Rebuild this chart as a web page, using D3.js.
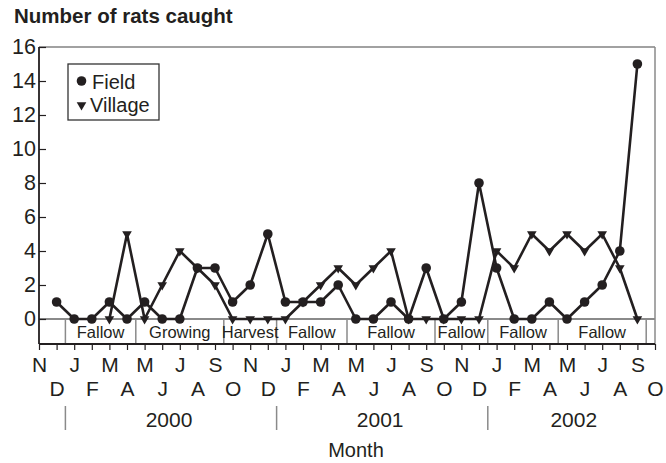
<!DOCTYPE html>
<html>
<head>
<meta charset="utf-8">
<script src="https://cdn.jsdelivr.net/npm/d3@7"></script>
<style>
  body { margin: 0; background: #fff; }
  svg { display: block; font-family: "Liberation Sans", Arial, sans-serif; }
</style>
</head>
<body>
<div id="chart"></div>
<script>
// months from Nov 1999 to Oct 2002
const months = ["N","D","J","F","M","A","M","J","J","A","S","O",
                "N","D","J","F","M","A","M","J","J","A","S","O",
                "N","D","J","F","M","A","M","J","J","A","S","O"];

const fieldValues = [null, 1, 0, 0, 1, 0, 1, 0, 0, 3, 3, 1,
                     2, 5, 1, 1, 1, 2, 0, 0, 1, 0, 3, 0,
                     1, 8, 3, 0, 0, 1, 0, 1, 2, 4, 15, null];

const villageValues = [null, null, null, null, 0, 5, 0, 2, 4, 3, 2, 0,
                       0, 0, 0, 1, 2, 3, 2, 3, 4, 0, 0, 0,
                       0, 0, 4, 3, 5, 4, 5, 4, 5, 3, 0, null];

// seasons: label, first month index, last month index
const seasonLabels = ["", "Fallow", "Growing", "Harvest", "Fallow", "Fallow", "Fallow", "Fallow", "Fallow", ""];
const seasonStarts = [0, 2, 6, 11, 14, 18, 23, 26, 30, 35];
const seasonEnds   = [1, 5, 10, 13, 17, 22, 25, 29, 34, 35];

const yearLabels = ["2000", "2001", "2002"];
const yearStarts = [2, 14, 26];
const yearEnds   = [13, 25, 35];

const yTicks = [0, 2, 4, 6, 8, 10, 12, 14, 16];

const width = 666, height = 463;
const ink = "#231f20";
const grey = "#8a8a8a";

const plotLeft = 39, plotRight = 655, plotTop = 47, zeroY = 319, plotBottom = 344;

const svg = d3.select("#chart").append("svg")
  .attr("width", width)
  .attr("height", height);

const x = d3.scalePoint()
  .domain(d3.range(months.length))
  .range([plotLeft, plotRight]);

const step = x.step();

const y = d3.scaleLinear()
  .domain([0, 16])
  .range([zeroY, plotTop]);

// title
svg.append("text")
  .attr("x", 14)
  .attr("y", 23)
  .attr("font-size", 20.5)
  .attr("font-weight", "bold")
  .attr("fill", ink)
  .text("Number of rats caught");

// frame
svg.append("line")
  .attr("x1", plotLeft).attr("x2", plotRight)
  .attr("y1", plotTop).attr("y2", plotTop)
  .attr("stroke", "#444").attr("stroke-width", 1.2);

svg.append("line")
  .attr("x1", plotRight).attr("x2", plotRight)
  .attr("y1", plotTop).attr("y2", plotBottom)
  .attr("stroke", grey).attr("stroke-width", 1.5);

svg.append("line")
  .attr("x1", plotLeft).attr("x2", plotRight)
  .attr("y1", zeroY).attr("y2", zeroY)
  .attr("stroke", grey).attr("stroke-width", 2);

// season dividers, then labels on top
seasonStarts.forEach((s) => {
  if (s > 0) {
    svg.append("line")
      .attr("x1", x(s) - step / 2).attr("x2", x(s) - step / 2)
      .attr("y1", zeroY).attr("y2", plotBottom)
      .attr("stroke", grey).attr("stroke-width", 1.5);
  }
});

seasonStarts.forEach((s, i) => {
  if (seasonLabels[i]) {
    svg.append("text")
      .attr("x", (x(s) + x(seasonEnds[i])) / 2)
      .attr("y", 338)
      .attr("text-anchor", "middle")
      .attr("font-size", 16.5)
      .attr("fill", ink)
      .text(seasonLabels[i]);
  }
});

// y axis
const yAxis = svg.append("g")
  .attr("transform", `translate(${plotLeft},0)`)
  .call(d3.axisLeft(y).tickValues(yTicks).tickSize(-7).tickPadding(3));

yAxis.select(".domain").remove();
yAxis.selectAll(".tick line").attr("stroke", ink).attr("stroke-width", 1.2);
yAxis.selectAll(".tick text")
  .attr("font-size", 21.5)
  .attr("font-family", "Liberation Sans, Arial, sans-serif")
  .attr("fill", ink);

svg.append("line")
  .attr("x1", plotLeft).attr("x2", plotLeft)
  .attr("y1", plotTop).attr("y2", plotBottom)
  .attr("stroke", ink).attr("stroke-width", 1.8);

// x axis with two rows of month letters
const xAxis = svg.append("g")
  .attr("transform", `translate(0,${plotBottom})`)
  .call(d3.axisBottom(x).tickSize(6).tickPadding(7).tickFormat((d) => months[d]));

xAxis.select(".domain")
  .attr("d", `M${plotLeft},0H${plotRight}`)
  .attr("stroke", ink).attr("stroke-width", 1.8);
xAxis.selectAll(".tick line").attr("stroke", ink).attr("stroke-width", 1.2);
xAxis.selectAll(".tick text")
  .attr("font-size", 21)
  .attr("font-family", "Liberation Sans, Arial, sans-serif")
  .attr("fill", ink)
  .attr("dy", (d) => (d % 2 === 0 ? "0.71em" : "1.85em"));

// years
yearLabels.forEach((label, i) => {
  const divX = x(yearStarts[i]) - step / 2;
  svg.append("line")
    .attr("x1", divX).attr("x2", divX)
    .attr("y1", 406).attr("y2", 430)
    .attr("stroke", grey).attr("stroke-width", 1.5);
  svg.append("text")
    .attr("x", (x(yearStarts[i]) + x(yearEnds[i])) / 2 - 2)
    .attr("y", 427)
    .attr("text-anchor", "middle")
    .attr("font-size", 21)
    .attr("fill", ink)
    .text(label);
});

svg.append("text")
  .attr("x", 356)
  .attr("y", 457)
  .attr("text-anchor", "middle")
  .attr("font-size", 20)
  .attr("fill", ink)
  .text("Month");

// series
const line = d3.line()
  .defined((d) => d != null)
  .x((d, i) => x(i))
  .y((d) => y(d));

[fieldValues, villageValues].forEach((values) => {
  svg.append("path")
    .datum(values)
    .attr("fill", "none")
    .attr("stroke", ink)
    .attr("stroke-width", 2.6)
    .attr("stroke-linejoin", "round")
    .attr("d", line);
});

const fieldPoints = fieldValues.map((v, i) => ({ i, v })).filter((d) => d.v != null);
const villagePoints = villageValues.map((v, i) => ({ i, v })).filter((d) => d.v != null);

svg.append("g")
  .selectAll("circle")
  .data(fieldPoints)
  .join("circle")
  .attr("cx", (d) => x(d.i))
  .attr("cy", (d) => y(d.v))
  .attr("r", 4.8)
  .attr("fill", ink);

const tri = d3.symbol().type(d3.symbolTriangle).size(40);

svg.append("g")
  .selectAll("path")
  .data(villagePoints)
  .join("path")
  .attr("transform", (d) => `translate(${x(d.i)},${y(d.v)}) rotate(180)`)
  .attr("d", tri)
  .attr("fill", ink);

// legend
const legend = svg.append("g").attr("transform", "translate(68,64)");

legend.append("rect")
  .attr("width", 91)
  .attr("height", 56)
  .attr("fill", "#fff")
  .attr("stroke", "#333")
  .attr("stroke-width", 1.3);

legend.append("circle")
  .attr("cx", 13.5).attr("cy", 17)
  .attr("r", 4.8)
  .attr("fill", ink);

legend.append("path")
  .attr("transform", "translate(13.5,41) rotate(180)")
  .attr("d", tri)
  .attr("fill", ink);

legend.append("text")
  .attr("x", 24).attr("y", 25)
  .attr("font-size", 20)
  .attr("fill", ink)
  .text("Field");

legend.append("text")
  .attr("x", 22).attr("y", 47.5)
  .attr("font-size", 20)
  .attr("fill", ink)
  .text("Village");
</script>
</body>
</html>
